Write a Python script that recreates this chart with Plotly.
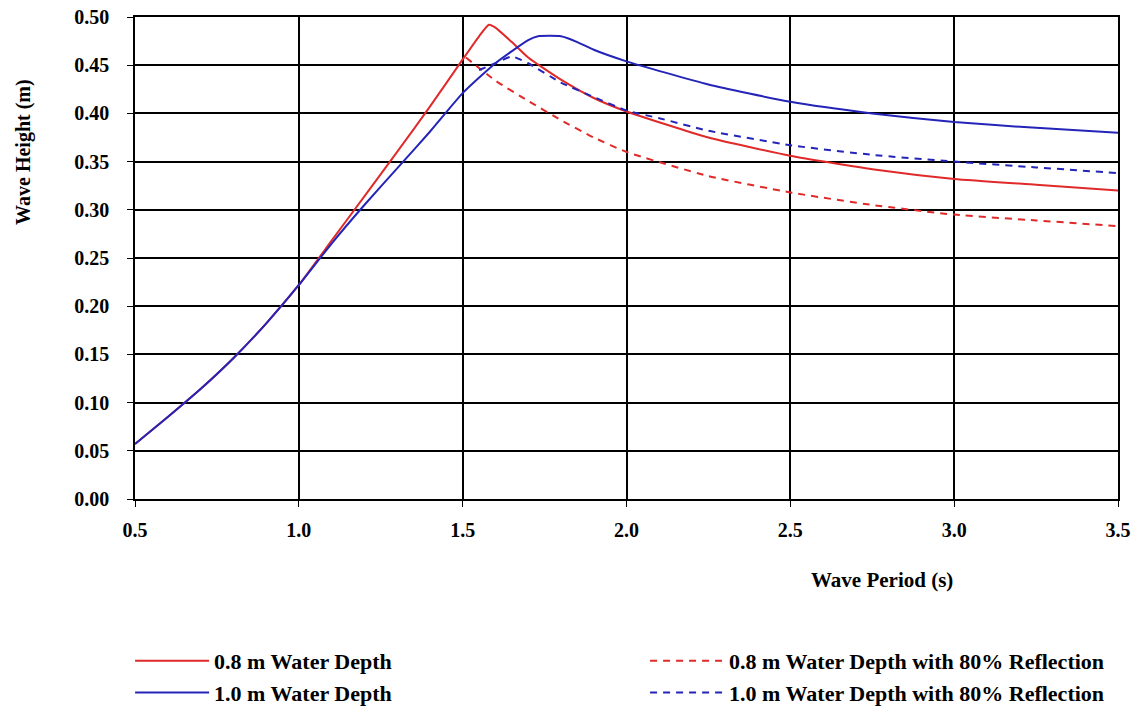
import plotly.graph_objects as go

# Wave period (s) and wave height (m)
x_08 = [0.5, 0.6, 0.7, 0.8, 0.9, 1.0, 1.1, 1.2, 1.3, 1.4, 1.5, 1.55, 1.58, 1.6, 1.65, 1.7, 1.8, 1.9, 2.0, 2.25, 2.5, 2.75, 3.0, 3.25, 3.5]
h_08 = [0.057, 0.085, 0.114, 0.146, 0.182, 0.222, 0.268, 0.314, 0.360, 0.407, 0.456, 0.480, 0.492, 0.489, 0.474, 0.458, 0.435, 0.416, 0.402, 0.375, 0.356, 0.342, 0.332, 0.326, 0.320]

x_10 = [0.5, 0.6, 0.7, 0.8, 0.9, 1.0, 1.1, 1.2, 1.3, 1.4, 1.5, 1.6, 1.7, 1.73, 1.8, 1.85, 1.9, 2.0, 2.25, 2.5, 2.75, 3.0, 3.25, 3.5]
h_10 = [0.057, 0.085, 0.114, 0.146, 0.182, 0.222, 0.265, 0.305, 0.343, 0.381, 0.421, 0.452, 0.476, 0.480, 0.480, 0.474, 0.466, 0.454, 0.430, 0.412, 0.400, 0.391, 0.385, 0.380]

x_08r = [1.51, 1.6, 1.7, 1.8, 1.9, 2.0, 2.25, 2.5, 2.75, 3.0, 3.25, 3.5]
h_08r = [0.458, 0.434, 0.413, 0.393, 0.375, 0.360, 0.335, 0.318, 0.305, 0.295, 0.289, 0.283]

x_10r = [1.55, 1.6, 1.65, 1.7, 1.8, 1.9, 2.0, 2.1, 2.25, 2.5, 2.75, 3.0, 3.25, 3.5]
h_10r = [0.445, 0.452, 0.459, 0.452, 0.432, 0.417, 0.403, 0.395, 0.382, 0.367, 0.357, 0.350, 0.344, 0.338]

x_ticks = [0.5, 1.0, 1.5, 2.0, 2.5, 3.0, 3.5]
y_ticks = [0.00, 0.05, 0.10, 0.15, 0.20, 0.25, 0.30, 0.35, 0.40, 0.45, 0.50]

RED = "#E02A2A"
BLUE = "#2424B8"
FONT = "Liberation Serif"

fig = go.Figure()
fig.add_trace(go.Scatter(x=x_08, y=h_08, mode="lines", name="<b>0.8 m Water Depth</b>",
                         line=dict(color=RED, width=2, shape="spline", smoothing=0.5)))
fig.add_trace(go.Scatter(x=x_08r, y=h_08r, mode="lines", name="<b>0.8 m Water Depth with 80% Reflection</b>",
                         line=dict(color=RED, width=2, dash="7px,6px", shape="spline", smoothing=0.5)))
fig.add_trace(go.Scatter(x=x_10, y=h_10, mode="lines", name="<b>1.0 m Water Depth</b>",
                         line=dict(color=BLUE, width=2, shape="spline", smoothing=0.5)))
fig.add_trace(go.Scatter(x=x_10r, y=h_10r, mode="lines", name="<b>1.0 m Water Depth with 80% Reflection</b>",
                         line=dict(color=BLUE, width=2, dash="7px,6px", shape="spline", smoothing=0.5)))

fig.update_layout(
    width=1147, height=709,
    margin=dict(l=135, r=29, t=17, b=210, autoexpand=False),
    paper_bgcolor="white", plot_bgcolor="white",
    font=dict(family=FONT, size=19, color="black"),
    xaxis=dict(range=[0.5, 3.5], tickvals=x_ticks, ticktext=[f"<b>{v:.1f}</b>" for v in x_ticks],
               showgrid=True, gridcolor="black", gridwidth=1.5, zeroline=False,
               showline=True, linecolor="black", linewidth=1.5, mirror=True,
               ticks="outside", ticklen=6, tickcolor="black", ticklabelstandoff=6,
               tickfont=dict(size=20)),
    yaxis=dict(range=[0, 0.5], tickvals=y_ticks, ticktext=[f"<b>{v:.2f}</b>" for v in y_ticks],
               showgrid=True, gridcolor="black", gridwidth=1.5, zeroline=False,
               showline=True, linecolor="black", linewidth=1.5, mirror=True,
               ticks="outside", ticklen=6, tickcolor="black", ticklabelstandoff=14,
               tickfont=dict(size=20)),
    legend=dict(orientation="h", x=-0.005, y=-0.2925, xanchor="left", yanchor="top",
                entrywidth=426, entrywidthmode="pixels", font=dict(family=FONT, size=22),
                itemwidth=74, traceorder="normal"),
    annotations=[
        dict(text="<b>Wave Period (s)</b>", x=0.76, y=-0.168, xref="paper", yref="paper",
             showarrow=False, font=dict(family=FONT, size=21), xanchor="center", yanchor="middle"),
        dict(text="<b>Wave Height (m)</b>", x=-0.113, y=0.72, xref="paper", yref="paper",
             textangle=-90, showarrow=False, font=dict(family=FONT, size=20),
             xanchor="center", yanchor="middle"),
    ],
)

fig.write_html("out.html", config={"displayModeBar": False},
               post_script="document.body.style.margin='0';")
